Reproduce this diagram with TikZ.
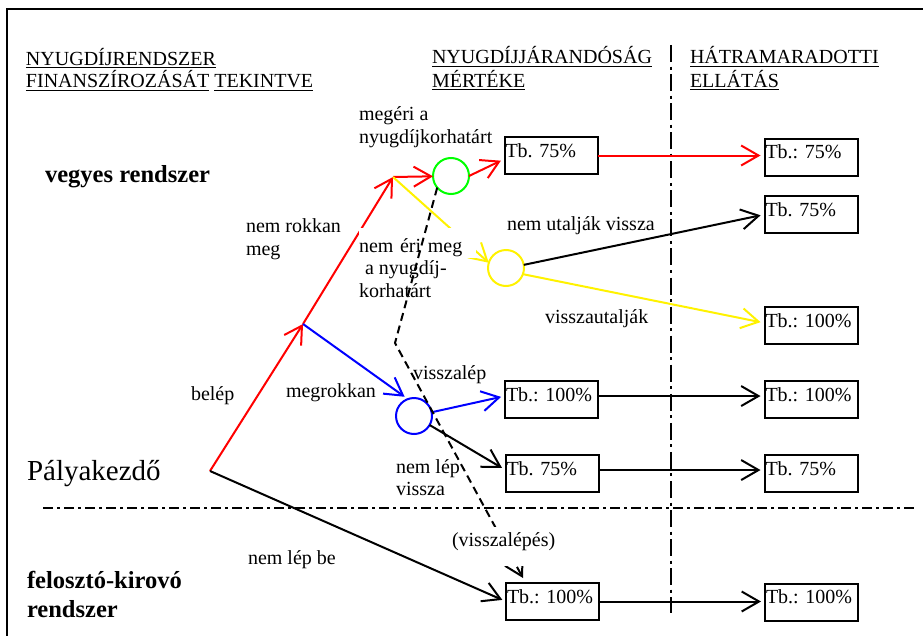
\documentclass[tikz,border=0pt]{standalone}
\usepackage{fontspec}
\setmainfont{Liberation Serif}
\usetikzlibrary{arrows.meta}
\newcommand\myul[1]{\setbox0\hbox{#1}\rlap{\rule[-2pt]{\wd0}{0.8pt}}\box0\relax}
\begin{document}
\frenchspacing
\begin{tikzpicture}[x=0.75pt,y=-0.75pt,
  every node/.style={inner sep=0pt, outer sep=0pt},
  txt/.style={anchor=base west, font=\fontsize{15}{17.25}\selectfont\frenchspacing},
  bigtxt/.style={anchor=base west, font=\fontsize{21.75}{25}\selectfont},
  boldtxt/.style={anchor=base west, font=\fontsize{18.4}{21}\selectfont\bfseries},
  box/.style={draw, line width=1.5pt, text width=68.25pt, align=left,
    text height=15pt, text depth=12.75pt, inner xsep=0.75pt, inner ysep=0pt,
    font=\fontsize{15}{17.25}\selectfont\frenchspacing},
  circ/.style={circle, draw, line width=1.5pt, minimum size=27pt},
  conn/.style={line width=1.5pt, -{Straight Barb[length=13pt,width=15pt]}},
  tobox/.style={shorten >=3pt},
  cover/.style={fill=white},
  vsep/.style={line width=1.5pt, dash pattern=on 12.75pt off 3.4pt on 2.25pt off 3.4pt},
  hsep/.style={line width=1.5pt, dash pattern=on 7.5pt off 3pt on 2.25pt off 3pt},
]
\useasboundingbox (0,0) rectangle (923,635);
% frame
\draw[line width=1.5pt] (7,640) -- (7,9) -- (930,9);
% separators
\draw[vsep] (671,45) -- (671,613);
\draw[hsep] (43,508) -- (915,508);

% headers
\node[txt] (h1a) at (26,65) {\myul{NYUGDÍJRENDSZER}};
\node[txt] (h1b) at (26,88) {\myul{FINANSZÍROZÁSÁT} \myul{TEKINTVE}};
\node[txt] (h2a) at (432,64) {\myul{NYUGDÍJJÁRANDÓSÁG}};
\node[txt] (h2b) at (432,87) {\myul{MÉRTÉKE}};
\node[txt] (h3a) at (690,64) {\myul{HÁTRAMARADOTTI}};
\node[txt] (h3b) at (690,87) {\myul{ELLÁTÁS}};

% boxes
\node[box] (A) at (551,155.5) {\mbox{Tb. 75\%}};
\node[box] (B) at (811,157) {\mbox{Tb.: 75\%}};
\node[box] (C) at (811,214.5) {\mbox{Tb. 75\%}};
\node[box] (D) at (811,325.5) {\mbox{Tb.: 100\%}};
\node[box] (E) at (811,399.5) {\mbox{Tb.: 100\%}};
\node[box] (F) at (811,473.5) {\mbox{Tb. 75\%}};
\node[box] (G) at (811.5,602) {\mbox{Tb.: 100\%}};
\node[box] (H) at (551.5,399.5) {\mbox{Tb.: 100\%}};
\node[box] (I) at (552,473.5) {\mbox{Tb. 75\%}};
\node[box] (J) at (552.5,601.5) {\mbox{Tb.: 100\%}};

% circles
\node[circ, draw=green] (gc) at (451,176) {};
\node[circ, draw=yellow] (yc) at (506,268) {};
\node[circ, draw=blue] (bc) at (414,416) {};

% junctions
\coordinate (P) at (210,471);
\coordinate (Q) at (303,324);
\coordinate (R) at (393,177);
\coordinate (K) at (395,343);
\coordinate (L) at (523,578);

% connectors
\draw[conn, red] (P) -- (Q);
\draw[conn, red] (Q) -- (R);
\draw[conn, red] (R) -- (gc);
\draw[conn, red, tobox] (gc.east) -- ([yshift=-2.6pt]A.west);
\draw[conn, red, tobox] (A.east) -- (A.east -| B.west);
\draw[conn, yellow] (R) -- (yc.163);
\draw[conn, black, tobox] (yc.10) -- (C.west);
\draw[conn, yellow, tobox] (yc.-20) -- ([yshift=1.9pt]D.west);
\draw[conn, blue, shorten >=3pt] (Q) -- (bc.110);
\draw[conn, blue, tobox] (bc.12) -- ([yshift=2.6pt]H.west);
\draw[conn, black, tobox] (bc.-30) -- ([yshift=2.6pt]I.west);
\draw[conn, black, tobox] (P) -- (J.west);
\draw[conn, black, tobox] ([yshift=2.6pt]H.east) -- ([yshift=2.6pt]H.east -| E.west);
\draw[conn, black, tobox] ([yshift=2.6pt]I.east) -- ([yshift=2.6pt]I.east -| F.west);
\draw[conn, black, tobox] (J.east) -- (J.east -| G.west);

% labels
\node[txt] (l1a) at (359,120) {megéri a};
\node[txt] (l1b) at (359,143) {nyugdíjkorhatárt};
\node[txt] (l2a) at (246,232) {nem rokkan};
\node[txt] (l2b) at (246,255) {meg};
\node[txt, cover, text width=87.75pt, text height=18pt, text depth=4.5pt] (l3a) at (359,252) {nem éri meg};
\node[txt] (l3b) at (365,274) {a nyugdíj-};
\node[txt] (l3c) at (359,297) {korhatárt};
\node[txt] (l4) at (507,230) {nem utalják vissza};
\node[txt] (l5) at (545,323) {visszautalják};
\node[txt] (l6) at (413,379) {visszalép};
\node[txt] (l7) at (286,397) {megrokkan};
\node[txt] (l8) at (191,400) {belép};
\node[txt] (l9a) at (396,473) {nem lép};
\node[txt] (l9b) at (396,495) {vissza};
\node[txt] (l10) at (248,564) {nem lép be};
\node[bigtxt] (pk) at (27,480) {Pályakezdő};
\node[boldtxt] (vr) at (45,182) {vegyes rendszer};
\node[boldtxt] (fk1) at (27,588) {felosztó-kirovó};
\node[boldtxt] (fk2) at (27,617) {rendszer};

% dashed return path
\draw[conn, black, dash pattern=on 6pt off 3.75pt] (gc.220) -- (K) -- (L);
\node[txt, cover, text height=14.25pt, text depth=15pt, inner xsep=1.5pt] (l11) at (450,546) {(visszalépés)};
\end{tikzpicture}
\end{document}
